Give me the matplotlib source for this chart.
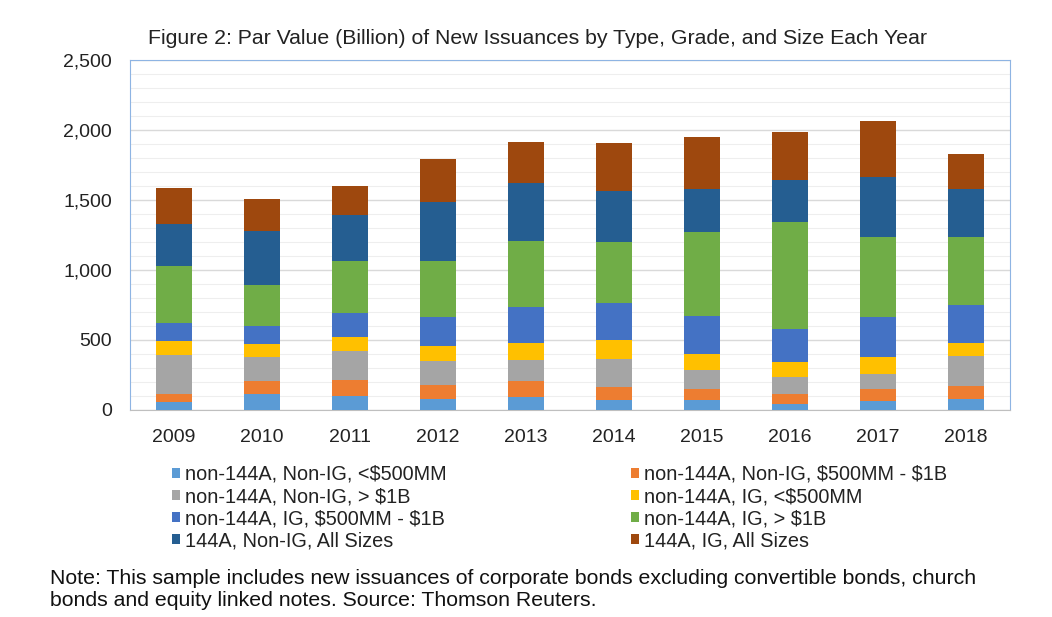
import matplotlib.pyplot as plt
import numpy as np
from matplotlib.patches import Patch

plt.rcParams['font.family'] = ['Liberation Sans', 'DejaVu Sans']

years = ['2009', '2010', '2011', '2012', '2013', '2014', '2015', '2016', '2017', '2018']

labels = [r'non-144A, Non-IG, <\$500MM',
          r'non-144A, Non-IG, \$500MM - \$1B',
          r'non-144A, Non-IG, > \$1B',
          r'non-144A, IG, <\$500MM',
          r'non-144A, IG, \$500MM - \$1B',
          r'non-144A, IG, > \$1B',
          '144A, Non-IG, All Sizes',
          '144A, IG, All Sizes']

# Par value in billions
nonig_small = [56, 111, 102, 77, 92, 73, 73, 44, 61, 77]
nonig_mid   = [60, 98, 114, 105, 114, 90, 76, 69, 88, 91]
nonig_large = [279, 167, 202, 167, 148, 200, 134, 124, 107, 215]
ig_small    = [95, 95, 103, 105, 127, 134, 119, 108, 120, 98]
ig_mid      = [134, 129, 169, 210, 254, 270, 267, 236, 288, 267]
ig_large    = [403, 296, 374, 403, 470, 433, 603, 760, 572, 488]
a144_nonig  = [300, 383, 329, 419, 413, 365, 310, 301, 429, 339]
a144_ig     = [260, 229, 206, 304, 298, 339, 369, 341, 399, 253]

series = [nonig_small, nonig_mid, nonig_large, ig_small, ig_mid, ig_large, a144_nonig, a144_ig]
colors = ['#5B9BD5', '#ED7D31', '#A5A5A5', '#FFC000', '#4472C4', '#70AD47', '#255E91', '#9E480E']

fig = plt.figure(figsize=(10.52, 6.17), dpi=100)
ax = fig.add_axes([130/1052, 1 - 410/617, 880/1052, 350/617])

x = np.arange(len(years))
bottom = np.zeros(len(years))
for vals, c in zip(series, colors):
    ax.bar(x, vals, 0.4, bottom=bottom, color=c, zorder=3)
    bottom += np.array(vals)

ax.set_xlim(-0.5, len(years) - 0.5)
ax.set_ylim(0, 2500)
ax.set_yticks(np.arange(0, 2501, 500))
ax.set_yticklabels(['{:,}'.format(v) for v in range(0, 2501, 500)])
ax.set_yticks(np.arange(0, 2501, 100), minor=True)
ax.grid(axis='y', which='major', color='#D9D9D9', lw=1.0, zorder=0)
ax.grid(axis='y', which='minor', color='#EEEEEE', lw=0.8, zorder=0)
ax.set_xticks(x)
ax.set_xticklabels(years)
ax.tick_params(axis='both', which='both', length=0, labelsize=14, colors='#222222')
ax.tick_params(axis='x', pad=14)
ax.tick_params(axis='y', pad=13)

for s in ['left', 'top', 'right']:
    ax.spines[s].set_color('#8EB4E3')
ax.spines['bottom'].set_color('#BFBFBF')

fig.text(537/1052, 1 - 38/617, 'Figure 2: Par Value (Billion) of New Issuances by Type, Grade, and Size Each Year',
         ha='center', va='center', fontsize=15.3, color='#222222')

handles = [Patch(facecolor=c) for c in colors]
left_idx = [0, 2, 4, 6]
right_idx = [1, 3, 5, 7]
for idx, x0 in [(left_idx, 172), (right_idx, 631)]:
    fig.legend([handles[i] for i in idx], [labels[i] for i in idx],
               loc='upper left', bbox_to_anchor=(x0/1052, 1 - 465/617),
               frameon=False, fontsize=14.3, handlelength=0.4, handleheight=0.4,
               handletextpad=0.25, labelspacing=0.16, borderpad=0, borderaxespad=0,
               labelcolor='#222222')

fig.text(50/1052, 1 - 578/617,
         'Note: This sample includes new issuances of corporate bonds excluding convertible bonds, church',
         ha='left', va='center', fontsize=15.3, color='#111111')
fig.text(50/1052, 1 - 600/617,
         'bonds and equity linked notes. Source: Thomson Reuters.',
         ha='left', va='center', fontsize=15.3, color='#111111')

fig.savefig('out.png', dpi=100)
